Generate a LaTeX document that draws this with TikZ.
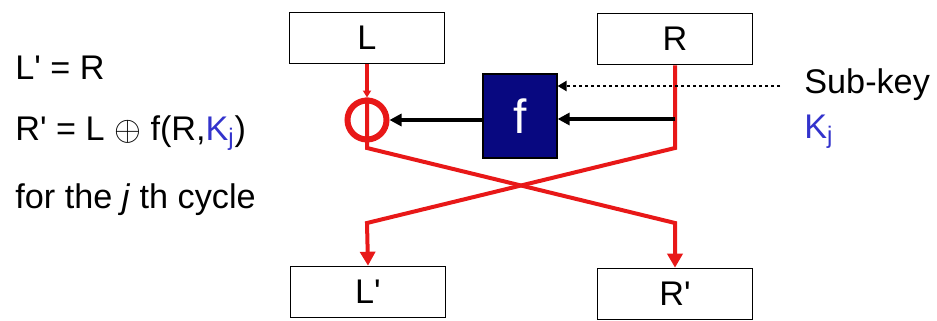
\documentclass[tikz,border=0pt]{standalone}
\usepackage{fontspec}
\setmainfont{Liberation Sans}
\usetikzlibrary{arrows.meta}
\definecolor{linered}{RGB}{232,24,24}
\definecolor{fnavy}{RGB}{8,8,128}
\definecolor{keyblue}{RGB}{51,51,204}
\newcommand{\pr}{\textquotesingle}
\begin{document}
\begin{tikzpicture}[x=0.5pt,y=-0.5pt,font=\fontsize{17.1}{20}\selectfont,
	half/.style={draw,line width=0.8pt,minimum width=77.5pt,minimum height=25.5pt,inner sep=0pt},
	redl/.style={draw=linered,line width=2pt,line join=miter},
	blka/.style={line width=1.7pt,-{Triangle[length=6pt,width=6pt]}},
	txt/.style={anchor=base west,inner sep=0pt}]
	\useasboundingbox (0,0) rectangle (937,321);
	% the two halves, before and after
	\node[half] (L) at (367,38) {L};
	\node[half] (R) at (675,39) {R};
	\node[half] (Lp) at (368,292) {L\pr};
	\node[half] (Rp) at (675,294) {R\pr};
	% round function and xor
	\node[fill=fnavy,draw=black,line width=0.6pt,minimum width=37pt,minimum height=42pt,inner sep=0pt,text=white,font=\fontsize{24}{26}\selectfont] (f) at (520,116) {f};
	\node[circle,draw=linered,line width=3pt,minimum size=19.5pt,inner sep=0pt] (x) at (367,120) {};
	\coordinate (lb) at (367,148);
	\coordinate (rb) at (675,148);
	\coordinate (lt) at (367,223);
	\coordinate (rt) at (675,223);
	\coordinate (tap) at (675,119);
	\coordinate (sk) at (780,86);
	% red data lines
	\draw[redl,-{Triangle[length=3.5pt,width=4pt]}] (L.south) -- (x.north);
	\draw[redl,-{Triangle[length=7pt,width=7.5pt]}] (x.north) -- (lb) -- (rt) -- (Rp.north);
	\draw[redl,-{Triangle[length=7pt,width=7.5pt]}] (R.south) -- (rb) -- (lt) -- (Lp.north);
	% black arrows
	\draw[blka] (tap) -- (f.east |- tap);
	\draw[blka] (f.west |- x) -- (x.east);
	\draw[line width=1.4pt,dash pattern=on 1.4pt off 1.6pt,-{Triangle[length=4.5pt,width=5pt]}] (sk) -- (f.east |- sk);
	% text
	\node[txt] (sub) at (804,93) {Sub-key};
	\node[txt,text=keyblue] (kj) at (804,138) {K\textsubscript{j}};
	\node[txt] (eq1) at (15,79) {L\pr{} = R};
	\node[txt] (eq2) at (15,140) {R\pr{} = L $\oplus$ f(R,{\color{keyblue}K\textsubscript{j}})};
	\node[txt] (eq3) at (15,208) {for the \textit{j} th cycle};
\end{tikzpicture}
\end{document}
